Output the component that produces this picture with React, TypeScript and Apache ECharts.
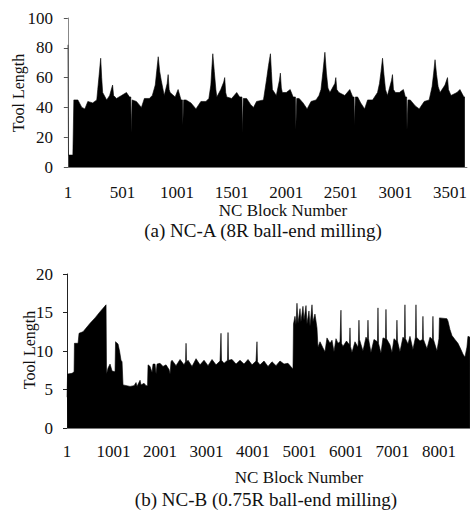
import React, { useEffect, useRef } from "react";
import * as echarts from "echarts";

const FONT = "'Liberation Serif', 'Times New Roman', serif";

// NC-A (8R ball-end milling)
const blockA = [
  1, 6, 46, 55, 92, 128, 156, 183, 228, 265, 274, 287, 301, 310, 319, 356, 383, 402, 410, 419, 446, 492, 537, 565, 577,
  580, 586, 589, 628, 674, 701, 746, 774, 801, 815, 828, 842, 856, 883, 910, 919, 928, 937, 983, 1010, 1037, 1050,
  1053, 1058, 1061, 1083, 1128, 1174, 1219, 1265, 1292, 1310, 1319, 1328, 1342, 1356, 1365, 1401, 1428, 1437, 1446, 1456, 1501, 1547, 1574, 1595,
  1598, 1604, 1607, 1638, 1674, 1701, 1729, 1792, 1819, 1838, 1856, 1865, 1874, 1910, 1938, 1947, 1956, 1965, 2001, 2037, 2064, 2085,
  2088, 2094, 2097, 2119, 2155, 2192, 2228, 2274, 2301, 2319, 2337, 2355, 2369, 2383, 2401, 2446, 2455, 2464, 2483, 2537, 2583, 2610, 2622,
  2625, 2631, 2634, 2655, 2683, 2719, 2746, 2792, 2837, 2855, 2869, 2883, 2896, 2910, 2928, 2965, 2974, 2983, 3001, 3037, 3074, 3092, 3104,
  3107, 3113, 3116, 3137, 3183, 3219, 3265, 3310, 3337, 3351, 3364, 3378, 3392, 3410, 3455, 3478, 3487, 3510, 3565, 3592, 3628, 3637,
];
const lengthA = [
  82, 8, 8, 45, 45, 40, 39, 44, 43, 45, 52, 62, 73, 60, 50, 45, 48, 53, 55, 48, 46, 48, 50, 47, 47,
  23, 23, 45, 44, 40, 46, 46, 48, 55, 65, 74, 64, 58, 48, 56, 62, 52, 50, 47, 52, 45, 45,
  28, 28, 45, 45, 43, 39, 44, 44, 46, 55, 66, 76, 64, 52, 47, 52, 57, 60, 50, 47, 46, 50, 47, 47,
  23, 23, 46, 46, 42, 40, 44, 45, 58, 68, 76, 64, 52, 48, 58, 63, 53, 50, 50, 52, 47, 47,
  25, 25, 46, 46, 43, 39, 44, 45, 48, 52, 64, 77, 63, 53, 50, 56, 60, 52, 50, 48, 52, 47, 47,
  28, 28, 47, 47, 43, 39, 45, 45, 50, 56, 64, 73, 62, 52, 48, 58, 62, 52, 50, 50, 52, 47, 47,
  25, 25, 45, 45, 41, 39, 44, 45, 54, 63, 72, 62, 54, 50, 55, 60, 52, 48, 50, 52, 47, 47,
];

// NC-B (0.75R ball-end milling)
const blockB = [
  1, 12, 109, 152, 160, 238, 259, 345, 496, 603, 711, 840, 850, 883, 926, 969, 1033, 1044, 1098, 1130, 1162, 1184,
  1205, 1356, 1442, 1485, 1506, 1571, 1592, 1657, 1700, 1732, 1743, 1786, 1829, 1850, 1893, 1915, 1936, 2001, 2065,
  2130, 2194, 2216, 2237, 2259, 2345, 2431, 2517, 2549, 2560, 2571, 2603, 2689, 2775, 2861, 2947, 3033, 3119, 3205,
  3291, 3302, 3312, 3323, 3377, 3452, 3463, 3474, 3549, 3635, 3721, 3807, 3893, 3979, 4065, 4076, 4086, 4097, 4151,
  4237, 4323, 4409, 4495, 4581, 4667, 4753, 4839, 4860, 4871, 4903, 4925, 4946, 4968, 5011, 5032, 5075, 5097, 5140,
  5161, 5204, 5226, 5269, 5290, 5333, 5376, 5398, 5441, 5505, 5548, 5591, 5656, 5699, 5742, 5785, 5828, 5871, 5882,
  5892, 5903, 5935, 6010, 6075, 6086, 6097, 6129, 6193, 6258, 6268, 6279, 6290, 6365, 6430, 6462, 6473, 6484, 6537,
  6602, 6677, 6688, 6699, 6752, 6795, 6849, 6860, 6871, 6946, 6989, 7032, 7085, 7096, 7107, 7161, 7225, 7257, 7268,
  7279, 7333, 7376, 7440, 7494, 7505, 7516, 7591, 7644, 7655, 7666, 7741, 7806, 7859, 7870, 7881, 7956, 7999, 8010,
  8171, 8193, 8236, 8279, 8343, 8408, 8472, 8515, 8558, 8601, 8623, 8666,
];
const lengthB = [
  4, 7, 7.1, 7.3, 11, 11, 12.3, 12.5, 13.6, 14.3, 15.1, 16, 7, 7.8, 8.3, 7.4, 7.3, 11.2, 10.9, 10, 8.8, 8.6,
  5.6, 5.4, 5.5, 5.9, 5.4, 6.2, 5.6, 5.8, 5.5, 5.5, 8.2, 8.0, 7.2, 8.3, 8.3, 7.0, 8.3, 8.4, 8.0,
  8.2, 7.6, 7.0, 8.6, 8.8, 8.1, 8.9, 8.2, 8.6, 11.0, 8.6, 8.8, 8.0, 9.0, 8.2, 8.8, 8.1, 8.9, 8.2,
  8.7, 8.7, 12.3, 8.8, 8.4, 8.8, 12.4, 8.8, 8.9, 8.3, 8.8, 8.3, 8.9, 8.2, 8.7, 8.7, 11.2, 8.6, 8.2,
  8.7, 8.0, 8.6, 8.1, 8.7, 8.3, 8.4, 7.8, 7.7, 13.5, 14.5, 13.4, 16.2, 13.6, 15.5, 13.8, 15.8, 14.0, 15.9,
  13.5, 15.2, 13.2, 16.0, 13.8, 14.8, 13.0, 10.5, 11.2, 10.4, 9.9, 11.7, 11.0, 11.4, 9.9, 11.6, 11.0, 11.2, 11.2,
  15.3, 11.0, 10.6, 11.3, 10.8, 13.0, 10.6, 9.8, 11.2, 10.5, 11.4, 14.0, 11.5, 10.0, 11.8, 11.5, 14.0, 11.6, 9.8,
  11.5, 11.2, 15.6, 11.0, 9.7, 11.7, 11.6, 15.4, 11.6, 10.8, 9.8, 11.6, 11.3, 14.0, 11.3, 9.9, 11.8, 11.6, 16.0,
  11.6, 10.9, 11.9, 10.2, 11.8, 16.0, 11.8, 11.3, 11.5, 14.5, 11.5, 10.3, 11.8, 11.5, 14.5, 11.5, 10.0, 11.6, 14.3,
  14.2, 13.9, 12.8, 12.0, 11.5, 11.0, 10.2, 9.6, 9.2, 10.5, 11.9, 11.8,
];

const xTicksA = [1, 501, 1001, 1501, 2001, 2501, 3001, 3501];
const xTicksB = [1, 1001, 2001, 3001, 4001, 5001, 6001, 7001, 8001];

const yAxisTitle = "Tool Length";
const xAxisTitle = "NC Block Number";
const captionA = "(a) NC-A (8R ball-end milling)";
const captionB = "(b) NC-B (0.75R ball-end milling)";

export default function App() {
  const ref = useRef<HTMLDivElement>(null);
  useEffect(() => {
    if (!ref.current) return;
    const chart = echarts.init(ref.current, undefined, { renderer: "svg" });
    const pairsA = blockA.map((b, i) => [b, lengthA[i]]);
    const pairsB = blockB.map((b, i) => [b, lengthB[i]]);
    const labelStyle = {
      fontFamily: FONT,
      fontSize: 17,
      color: "#111",
      formatter: (v: number) => String(v),
    };
    const seriesBase = {
      type: "line",
      showSymbol: false,
      symbol: "none",
      lineStyle: { width: 0.6, color: "#000" },
      areaStyle: { color: "#000", opacity: 1 },
      itemStyle: { color: "#000" },
      silent: true,
    };
    const text = (t: string, x: number, y: number, size: number, rot = 0) => ({
      type: "text",
      x,
      y,
      rotation: rot,
      style: {
        text: t,
        fontFamily: FONT,
        fontSize: size,
        fill: "#111",
        textAlign: "center",
        textVerticalAlign: "middle",
      },
    });
    chart.setOption({
      animation: false,
      backgroundColor: "#fff",
      textStyle: { fontFamily: FONT },
      grid: [
        { left: 65, top: 18, width: 405, height: 149 },
        { left: 67, top: 274, width: 403, height: 154 },
      ],
      xAxis: [
        {
          gridIndex: 0,
          type: "value",
          min: -26,
          max: 3656,
          axisLine: { show: true, onZero: false, lineStyle: { color: "#777", width: 1 } },
          axisTick: { show: false },
          splitLine: { show: false },
          axisLabel: { ...labelStyle, customValues: xTicksA, margin: 17 },
        },
        {
          gridIndex: 1,
          type: "value",
          min: 0,
          max: 8667,
          axisLine: { show: true, onZero: false, lineStyle: { color: "#777", width: 1 } },
          axisTick: { show: false },
          splitLine: { show: false },
          axisLabel: { ...labelStyle, customValues: xTicksB, margin: 15 },
        },
      ],
      yAxis: [
        {
          gridIndex: 0,
          type: "value",
          min: 0,
          max: 100,
          interval: 20,
          axisLine: { show: true, lineStyle: { color: "#888", width: 1 } },
          axisTick: { show: true, length: 4, lineStyle: { color: "#555" } },
          splitLine: { show: false },
          axisLabel: { ...labelStyle, margin: 12 },
        },
        {
          gridIndex: 1,
          type: "value",
          min: 0,
          max: 20,
          interval: 5,
          axisLine: { show: true, lineStyle: { color: "#222", width: 1 } },
          axisTick: { show: true, length: 4, lineStyle: { color: "#222" } },
          splitLine: { show: false },
          axisLabel: { ...labelStyle, margin: 14 },
        },
      ],
      series: [
        { ...seriesBase, xAxisIndex: 0, yAxisIndex: 0, data: pairsA },
        { ...seriesBase, xAxisIndex: 1, yAxisIndex: 1, data: pairsB },
      ],
      graphic: [
        text(yAxisTitle, 18, 93, 16, Math.PI / 2),
        text(yAxisTitle, 29, 350, 16, Math.PI / 2),
        text(xAxisTitle, 283, 210, 17),
        text(captionA, 263, 230, 19),
        text(xAxisTitle, 299, 477, 17),
        text(captionB, 266, 499, 19),
      ],
    });
    return () => chart.dispose();
  }, []);
  return (
    <div
      ref={ref}
      style={{ position: "absolute", left: 0, top: 0, width: 470, height: 516 }}
    />
  );
}
